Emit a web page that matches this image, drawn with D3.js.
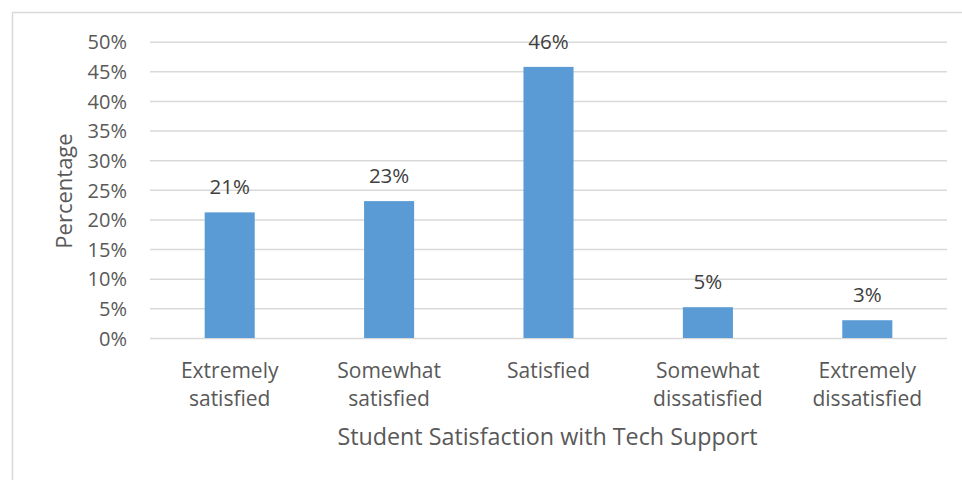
<!DOCTYPE html>
<html><head><meta charset="utf-8">
<script src="https://cdn.jsdelivr.net/npm/d3@7"></script>
<style>body{margin:0;background:#fff;}text{font-family:"Open Sans",sans-serif;}</style>
</head><body>
<svg id="c" width="962" height="480"></svg>
<script>
const categories = [["Extremely","satisfied"],["Somewhat","satisfied"],["Satisfied"],["Somewhat","dissatisfied"],["Extremely","dissatisfied"]];
const values = [0.212, 0.231, 0.4575, 0.052, 0.030];
const valueLabels = ["21%","23%","46%","5%","3%"];
const yTicks = [0,0.05,0.10,0.15,0.20,0.25,0.30,0.35,0.40,0.45,0.50];
const xTitle = "Student Satisfaction with Tech Support";
const yTitle = "Percentage";

(function(){
const svg = d3.select("#c");
svg.append("rect").attr("x",12.5).attr("y",12.5).attr("width",960).attr("height",480)
  .attr("fill","none").attr("stroke","#d9d9d9").attr("stroke-width",1.5);

const pl=150, pr=947, pt=41.7, pb=338;
const x = d3.scaleBand().domain(d3.range(categories.length)).range([pl,pr]).paddingInner(0.686).paddingOuter(0.343);
const y = d3.scaleLinear().domain([0,0.5]).range([pb,pt]);

const yAxis = d3.axisLeft(y).tickValues(yTicks).tickFormat(d3.format(".0%")).tickSize(-(pr-pl)).tickPadding(23);
const gy = svg.append("g").attr("transform",`translate(${pl},0)`).call(yAxis);
gy.select(".domain").remove();
gy.selectAll(".tick line").attr("stroke","#d9d9d9").attr("stroke-width",1.5);
gy.selectAll(".tick text").attr("fill","#595959").style("font-size","20px").style("font-family","Open Sans").attr("dy","0.36em");

svg.append("g").selectAll("rect").data(values).join("rect")
  .attr("x",(d,i)=>x(i)).attr("width",x.bandwidth())
  .attr("y",d=>y(d)).attr("height",d=>pb-y(d)).attr("fill","#5b9bd5");

svg.append("g").selectAll("text").data(values).join("text")
  .attr("x",(d,i)=>x(i)+x.bandwidth()/2).attr("y",d=>y(d)-18)
  .attr("text-anchor","middle").attr("fill","#404040").style("font-size","20.5px")
  .text((d,i)=>valueLabels[i]);

const gx = svg.append("g");
categories.forEach((lines,i)=>{
  const t = gx.append("text").attr("x",x(i)+x.bandwidth()/2).attr("y",378)
    .attr("text-anchor","middle").attr("fill","#595959").style("font-size","21px");
  lines.forEach((l,j)=>t.append("tspan").attr("x",x(i)+x.bandwidth()/2).attr("dy",j?28:0).text(l));
});

svg.append("text").attr("x",(pl+pr)/2 - 1).attr("y",445).attr("text-anchor","middle")
  .attr("fill","#595959").style("font-size","23.3px").text(xTitle);
svg.append("text").attr("transform","translate(72,191) rotate(-90)").attr("text-anchor","middle")
  .attr("fill","#595959").style("font-size","22px").text(yTitle);
})();
</script>
</body></html>
